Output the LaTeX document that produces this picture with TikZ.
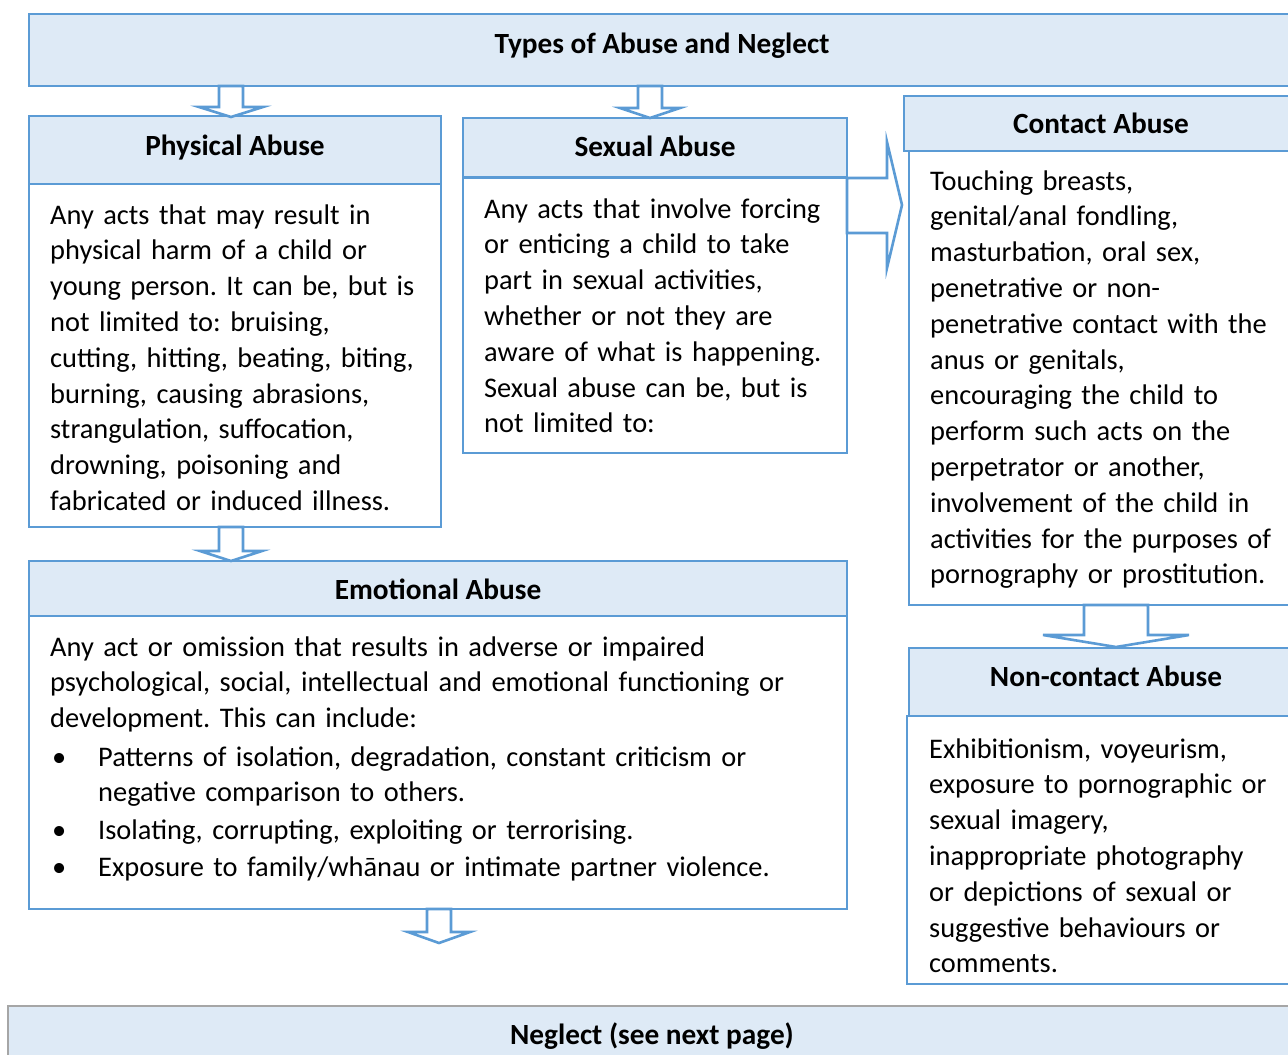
\documentclass[tikz,border=0pt]{standalone}
\usepackage{fontspec}
\setmainfont{Carlito}
\frenchspacing
\definecolor{bblue}{HTML}{5B9BD5}
\definecolor{lblue}{HTML}{DEEAF6}
\definecolor{ngray}{HTML}{A6A6A6}
\tikzset{
  box/.style={anchor=north west, inner sep=0pt, outer sep=0pt},
  hdr/.style={box, draw=bblue, line width=1.5pt, fill=lblue},
  bodybox/.style={box, draw=bblue, line width=2pt, fill=white},
  neglbox/.style={box, draw=ngray, line width=1.2pt, fill=lblue},
  blockarrow/.style={draw=bblue, line width=2.6pt, fill=white, line join=miter},
  txt/.style={anchor=base west, inner sep=0pt, text width=800pt, align=left,
    font=\frenchspacing\fontsize{28.4}{35.8}\selectfont},
  head/.style={anchor=base, inner sep=0pt, font=\bfseries\fontsize{29.3}{35.8}\selectfont},
}
\newcommand\dnblock[6]{% cx, ytop, yhead, ytip, halfshaft, halfhead
  \draw[blockarrow] ({#1-#5},#2) -- ({#1-#5},#3) -- ({#1-#6},#3) -- (#1,#4)
    -- ({#1+#6},#3) -- ({#1+#5},#3) -- ({#1+#5},#2) -- cycle;}
\begin{document}
\begin{tikzpicture}[x=1pt,y=-1pt]
\path[use as bounding box] (0,0) rectangle (1288,1055);
\clip (0,0) rectangle (1288,1055);
\fill[white] (0,0) rectangle (1288,1055);

% boxes
\node[hdr, minimum width=1290pt, minimum height=72pt] (top) at (29,14) {};
\node[hdr, minimum width=412pt, minimum height=68pt] (physH) at (29,116) {};
\node[bodybox, minimum width=412pt, minimum height=343pt] (physB) at (29,184) {};
\node[hdr, minimum width=384pt, minimum height=59pt] (sexH) at (463,118) {};
\node[bodybox, minimum width=384pt, minimum height=275pt] (sexB) at (463,178) {};
\node[hdr, minimum width=400pt, minimum height=55pt] (conH) at (904,96) {};
\node[bodybox, minimum width=400pt, minimum height=454pt] (conB) at (909,151) {};
\node[hdr, minimum width=400pt, minimum height=68pt] (ncH) at (909,648) {};
\node[bodybox, minimum width=400pt, minimum height=268pt] (ncB) at (907,716) {};
\node[hdr, minimum width=818pt, minimum height=55pt] (emoH) at (29,561) {};
\node[bodybox, minimum width=818pt, minimum height=293pt] (emoB) at (29,616) {};
\node[neglbox, minimum width=1300pt, minimum height=70pt] (negl) at (8,1006) {};

% block arrows
\dnblock{231}{86}{107}{117}{12}{32}
\dnblock{650}{86}{108}{118}{12}{30}
\dnblock{231}{527}{551}{561}{12}{31}
\dnblock{439}{909}{932}{943}{12}{31}
\dnblock{1116}{605}{635}{647}{32}{73}
\draw[blockarrow] (847,178) -- (887,178) -- (887,142) -- (902,205) -- (887,268)
  -- (887,233) -- (847,233) -- cycle;

% headings
\node[head] (tTop) at (662,53) {Types of Abuse and Neglect};
\node[head] (tPhys) at (235,155) {Physical Abuse};
\node[head] (tSex) at (655,156) {Sexual Abuse};
\node[head] (tCon) at (1101,133) {Contact Abuse};
\node[head] (tNc) at (1106,686) {Non-contact Abuse};
\node[head] (tEmo) at (438,599) {Emotional Abuse};
\node[head] (tNeg) at (652,1044) {Neglect (see next page)};

% body texts
\node[txt] (xPhys) at (50,224) {Any acts that may result in\\
physical harm of a child or\\
young person. It can be, but is\\
not limited to: bruising,\\
cutting, hitting, beating, biting,\\
burning, causing abrasions,\\
strangulation, suffocation,\\
drowning, poisoning and\\
fabricated or induced illness.};

\node[txt] (xSex) at (484,218) {Any acts that involve forcing\\
or enticing a child to take\\
part in sexual activities,\\
whether or not they are\\
aware of what is happening.\\
Sexual abuse can be, but is\\
not limited to:};

\node[txt] (xCon) at (930,190) {Touching breasts,\\
genital/anal fondling,\\
masturbation, oral sex,\\
penetrative or non-\\
penetrative contact with the\\
anus or genitals,\\
encouraging the child to\\
perform such acts on the\\
perpetrator or another,\\
involvement of the child in\\
activities for the purposes of\\
pornography or prostitution.};

\node[txt] (xNc) at (929,758) {Exhibitionism, voyeurism,\\
exposure to pornographic or\\
sexual imagery,\\
inappropriate photography\\
or depictions of sexual or\\
suggestive behaviours or\\
comments.};

\node[txt] (xEmo) at (50,656) {Any act or omission that results in adverse or impaired\\
psychological, social, intellectual and emotional functioning or\\
development. This can include:};

\node[txt] (b1) at (52,766) {•};
\node[txt] (b2) at (52,839) {•};
\node[txt] (b3) at (52,876) {•};
\node[txt] (e1) at (98,766) {Patterns of isolation, degradation, constant criticism or\\
negative comparison to others.};
\node[txt] (e2) at (98,839) {Isolating, corrupting, exploiting or terrorising.};
\node[txt] (e3) at (98,876) {Exposure to family/whānau or intimate partner violence.};
\end{tikzpicture}
\end{document}
